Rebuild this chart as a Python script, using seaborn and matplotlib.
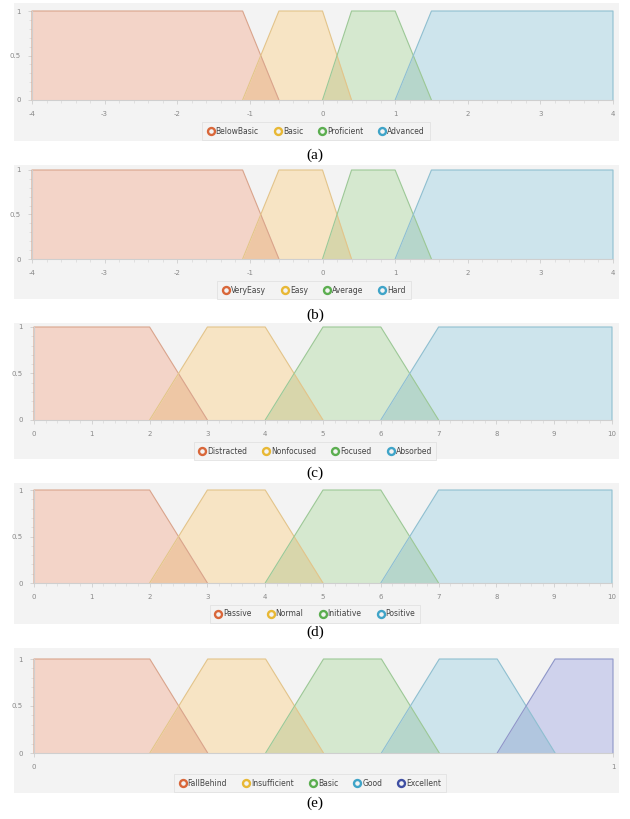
import numpy as np
import pandas as pd
import matplotlib
matplotlib.use("Agg")
import matplotlib.pyplot as plt
from matplotlib.patches import Rectangle
from matplotlib.lines import Line2D
from matplotlib.ticker import AutoMinorLocator
from matplotlib.colors import to_rgb
import seaborn as sns

# ---------------- data ----------------
labels_a = ["BelowBasic", "Basic", "Proficient", "Advanced"]
params_a = [[-4, -4, -1.1, -0.6], [-1.1, -0.6, 0.0, 0.4], [0.0, 0.4, 1.0, 1.5], [1.0, 1.5, 4, 4]]
xticks_a = [-4, -3, -2, -1, 0, 1, 2, 3, 4]

labels_b = ["VeryEasy", "Easy", "Average", "Hard"]
params_b = [[-4, -4, -1.1, -0.6], [-1.1, -0.6, 0.0, 0.4], [0.0, 0.4, 1.0, 1.5], [1.0, 1.5, 4, 4]]
xticks_b = [-4, -3, -2, -1, 0, 1, 2, 3, 4]

labels_c = ["Distracted", "Nonfocused", "Focused", "Absorbed"]
params_c = [[0, 0, 2, 3], [2, 3, 4, 5], [4, 5, 6, 7], [6, 7, 10, 10]]
xticks_c = [0, 1, 2, 3, 4, 5, 6, 7, 8, 9, 10]

labels_d = ["Passive", "Normal", "Initiative", "Positive"]
params_d = [[0, 0, 2, 3], [2, 3, 4, 5], [4, 5, 6, 7], [6, 7, 10, 10]]
xticks_d = [0, 1, 2, 3, 4, 5, 6, 7, 8, 9, 10]

labels_e = ["FallBehind", "Insufficient", "Basic", "Good", "Excellent"]
params_e = [[0, 0, 0.2, 0.3], [0.2, 0.3, 0.4, 0.5], [0.4, 0.5, 0.6, 0.7], [0.6, 0.7, 0.8, 0.9], [0.8, 0.9, 1, 1]]
xticks_e = [0, 1]

yticks = [0, 0.5, 1]
ytick_labels = ["0", "0.5", "1"]
captions = ["(a)", "(b)", "(c)", "(d)", "(e)"]

line_colors = ["#d9673a", "#e8b835", "#5cae50", "#3fa4c8", "#3f4fa3"]
fill_colors = ["#f3d4c8", "#f7e4c4", "#d5e8cf", "#cde4ec", "#cfd2ec"]
edge_colors = ["#d9a48c", "#e3c48a", "#9cc896", "#8fbfd0", "#8e96c8"]

# ---------------- layout (pixels) ----------------
W, H = 630, 819
panels = [
    dict(labels=labels_a, params=params_a, xticks=xticks_a, ax=(32, 613, 11, 100), box=(14, 619, 3, 141),
         leg=(316, 131), cap=155, minor=True),
    dict(labels=labels_b, params=params_b, xticks=xticks_b, ax=(32, 613, 170, 259), box=(14, 619, 165, 299),
         leg=(314, 290), cap=315, minor=True),
    dict(labels=labels_c, params=params_c, xticks=xticks_c, ax=(34, 612, 327, 420), box=(14, 619, 323, 459),
         leg=(315, 451), cap=473, minor=True),
    dict(labels=labels_d, params=params_d, xticks=xticks_d, ax=(34, 612, 490, 583), box=(14, 619, 483, 624),
         leg=(315, 614), cap=632, minor=True),
    dict(labels=labels_e, params=params_e, xticks=xticks_e, ax=(34, 613, 659, 753), box=(14, 619, 648, 793),
         leg=(310, 783), cap=803, minor=False),
]

sns.set_theme(style="white")
plt.rcParams["font.family"] = ["DejaVu Sans"]

fig = plt.figure(figsize=(W / 100, H / 100), dpi=100)
fig.patch.set_facecolor("white")


def membership(xg, prm):
    return np.interp(xg, prm, [0, 1, 1, 0])


bg = "#f3f3f3"
for i, p in enumerate(panels):
    bx0, bx1, by0, by1 = p["box"]
    fig.patches.append(Rectangle((bx0 / W, 1 - by1 / H), (bx1 - bx0) / W, (by1 - by0) / H,
                                 transform=fig.transFigure, facecolor=bg, edgecolor="none", zorder=-5))
    x0, x1, y0, y1 = p["ax"]
    ax = fig.add_axes([x0 / W, 1 - y1 / H, (x1 - x0) / W, (y1 - y0) / H])
    ax.set_facecolor("none")
    ax.set_zorder(2)

    n = len(p["labels"])
    rows = []
    for lab, prm in zip(p["labels"], p["params"]):
        for k, (xv, yv) in enumerate(zip(prm, [0, 1, 1, 0])):
            rows.append(dict(label=lab, x=xv, y=yv, order=k))
    df = pd.DataFrame(rows)
    pal = dict(zip(p["labels"], edge_colors[:n]))

    # solid fills
    for j, lab in enumerate(p["labels"]):
        sub = df[df.label == lab]
        ax.fill(sub.x.values, sub.y.values, color=fill_colors[j], lw=0, zorder=1)
    # overlap regions (multiply-like tint of neighbouring fills)
    xg = np.linspace(p["xticks"][0], p["xticks"][-1], 4001)
    for j in range(n - 1):
        m = np.minimum(membership(xg, p["params"][j]), membership(xg, p["params"][j + 1]))
        c1, c2 = np.array(to_rgb(fill_colors[j])), np.array(to_rgb(fill_colors[j + 1]))
        mult = c1 * c2
        oc = 0.75 * mult + 0.25 * np.maximum(c1, c2)
        oc = np.clip(oc, 0, 1)
        ax.fill_between(xg, 0, m, where=m > 0, color=oc, lw=0, zorder=1.5)

    sns.lineplot(data=df, x="x", y="y", hue="label", palette=pal, sort=False, estimator=None,
                 legend=False, ax=ax, linewidth=0.8, zorder=2)
    for line in ax.lines:
        line.set_clip_on(False)

    ax.set_xlim(p["xticks"][0], p["xticks"][-1])
    ax.set_ylim(0, 1)
    ax.set_xticks(p["xticks"])
    ax.set_xticklabels([str(t) for t in p["xticks"]])
    ax.set_yticks(yticks)
    ax.set_yticklabels(ytick_labels)
    if p["minor"]:
        ax.xaxis.set_minor_locator(AutoMinorLocator(5))
    ax.yaxis.set_minor_locator(AutoMinorLocator(5))
    ax.set_xlabel("")
    ax.set_ylabel("")
    for s in ["top", "right"]:
        ax.spines[s].set_visible(False)
    for s in ["left", "bottom"]:
        ax.spines[s].set_color("#cfcfcf")
        ax.spines[s].set_linewidth(0.8)
    ax.tick_params(axis="both", which="major", colors="#cfcfcf", labelcolor="#888888",
                   labelsize=5, length=3, width=0.6, pad=5, left=True, bottom=True)
    ax.tick_params(axis="both", which="minor", colors="#d8d8d8", length=2, width=0.5, left=True, bottom=True)

    handles = [Line2D([], [], marker="o", linestyle="", markersize=5, markerfacecolor=bg,
                      markeredgecolor=line_colors[j], markeredgewidth=1.7) for j in range(n)]
    lx, ly = p["leg"]
    leg = fig.legend(handles, p["labels"], loc="center", bbox_to_anchor=(lx / W, 1 - ly / H),
                     ncol=n, fontsize=5.5, frameon=True, handletextpad=0.15,
                     columnspacing=2.0, borderpad=0.6, handlelength=1.0, fancybox=False,
                     labelcolor="#444444")
    leg.get_frame().set_facecolor(bg)
    leg.get_frame().set_edgecolor("#dddddd")
    leg.get_frame().set_linewidth(0.6)

    fig.text(315 / W, 1 - p["cap"] / H, captions[i], ha="center", va="center",
             fontsize=11, family=["Liberation Serif", "DejaVu Serif"], color="black")

fig.savefig("out.png", dpi=100, facecolor="white")
